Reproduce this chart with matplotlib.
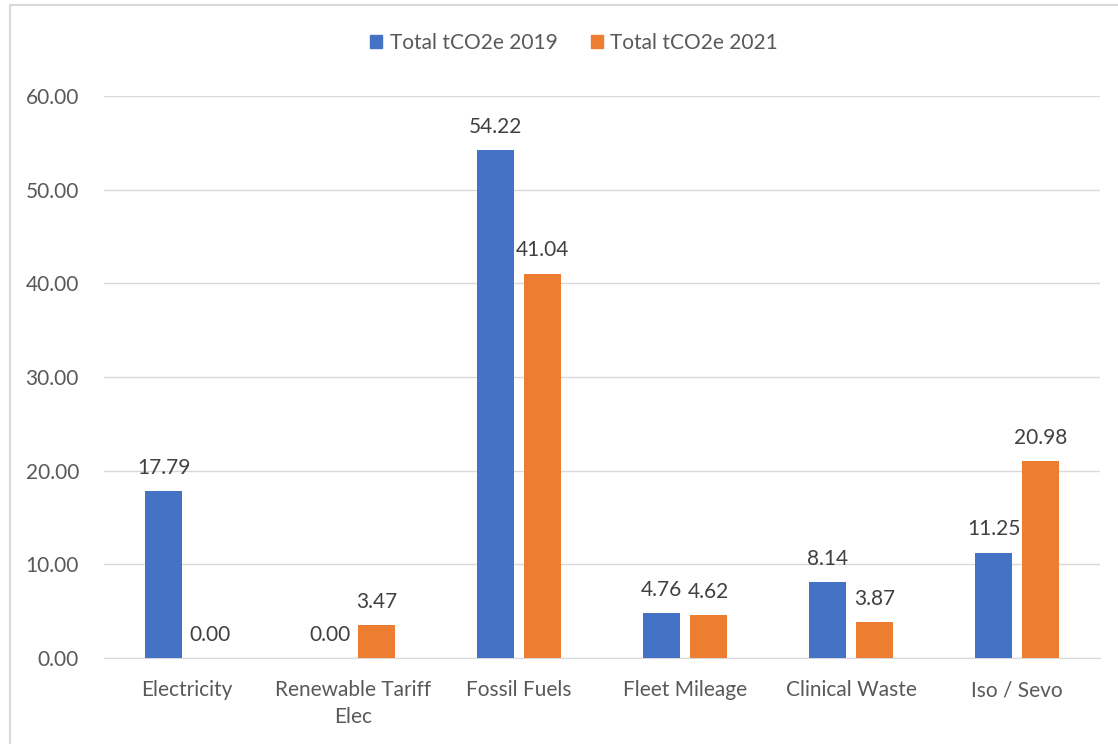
import matplotlib.pyplot as plt
import matplotlib.patches as mpatches
import numpy as np

plt.rcParams["font.family"] = ["Lato", "DejaVu Sans"]

categories = ["Electricity", "Renewable Tariff\nElec", "Fossil Fuels",
              "Fleet Mileage", "Clinical Waste", "Iso / Sevo"]
values_2019 = [17.79, 0.00, 54.22, 4.76, 8.14, 11.25]
values_2021 = [0.00, 3.47, 41.04, 4.62, 3.87, 20.98]
series_names = ["Total tCO2e 2019", "Total tCO2e 2021"]

BLUE = "#4472C4"
ORANGE = "#ED7D31"
TEXT = "#595959"
FS = 15

fig = plt.figure(figsize=(11.18, 7.44), dpi=100)
# light chart-area border like the Excel export
fig.patches.append(mpatches.Rectangle((10 / 1118, -0.01), 1.2, (744 - 5) / 744 + 0.01,
                                      transform=fig.transFigure, fill=False,
                                      edgecolor="#D9D9D9", linewidth=1.5))

ax = fig.add_axes([104 / 1118, (744 - 658) / 744, (1100 - 104) / 1118, (658 - 96) / 744])

x = np.arange(len(categories))
w = 0.2225
gap = 0.03
b1 = ax.bar(x - w / 2 - gap, values_2019, width=w, color=BLUE, zorder=3)
b2 = ax.bar(x + w / 2 + gap, values_2021, width=w, color=ORANGE, zorder=3)

for bars, vals in ((b1, values_2019), (b2, values_2021)):
    for bar, v in zip(bars, vals):
        ax.annotate(f"{v:.2f}", (bar.get_x() + bar.get_width() / 2, v),
                    xytext=(0, 9.5), textcoords="offset points",
                    ha="center", va="bottom", fontsize=FS, color="#404040")

ax.set_xlim(-0.5, len(categories) - 0.5)
ax.set_ylim(0, 60)
ax.set_yticks(np.arange(0, 61, 10))
ax.yaxis.set_major_formatter(plt.FuncFormatter(lambda v, _: f"{v:.2f}"))
ax.set_xticks(x)
ax.set_xticklabels(categories, linespacing=1.45)
ax.tick_params(axis="both", length=0, labelsize=FS, colors=TEXT)
ax.tick_params(axis="y", pad=18)
ax.tick_params(axis="x", pad=16)
ax.grid(axis="y", color="#D9D9D9", linewidth=1, zorder=0)
for s in ["top", "right", "left"]:
    ax.spines[s].set_visible(False)
ax.spines["bottom"].set_color("#D9D9D9")

handles = [mpatches.Patch(color=BLUE), mpatches.Patch(color=ORANGE)]
fig.legend(handles, series_names, loc="center", bbox_to_anchor=(574 / 1118, 1 - 43 / 744),
           ncol=2, frameon=False, fontsize=FS, labelcolor=TEXT,
           handlelength=0.6, handleheight=0.6, handletextpad=0.35, columnspacing=1.6)

fig.savefig("out.png", dpi=100)
